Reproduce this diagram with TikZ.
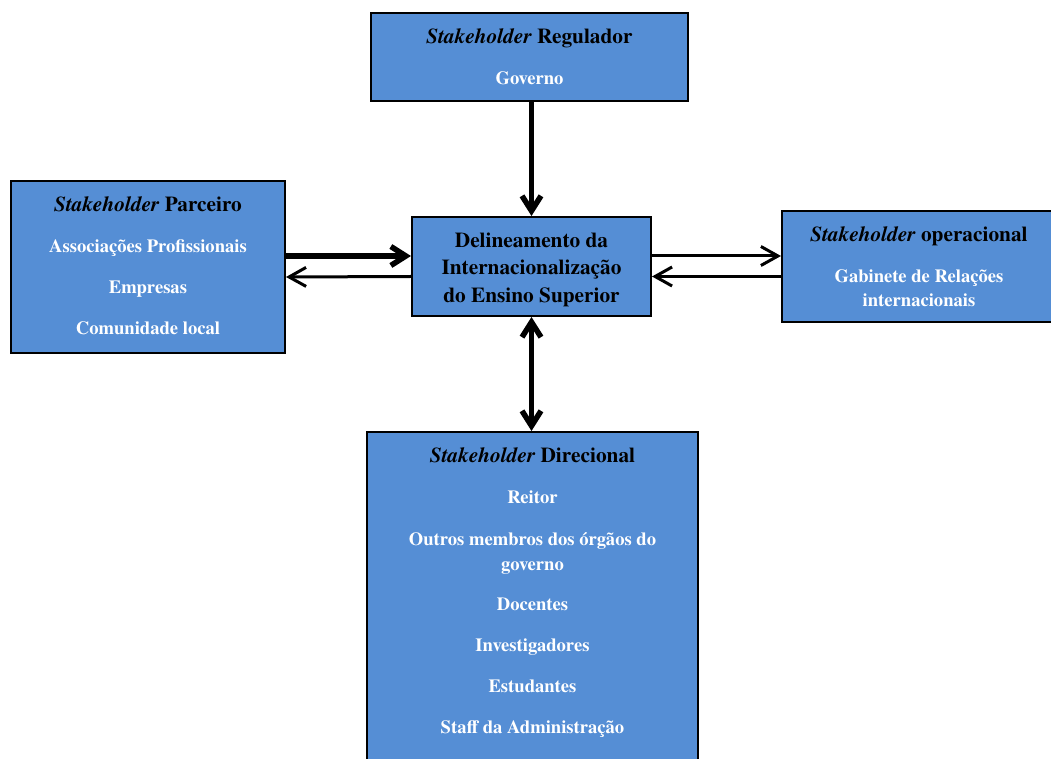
\documentclass[tikz,border=0pt]{standalone}
\usepackage{fontspec}
\setmainfont{texgyretermes}[Extension=.otf, UprightFont=*-regular, BoldFont=*-bold, ItalicFont=*-italic, BoldItalicFont=*-bolditalic]
\usetikzlibrary{arrows.meta}
\definecolor{boxblue}{RGB}{85,142,213}
% heading line of every stakeholder box
\newcommand\shtitle[1]{{\color{black}\fontsize{21.3}{25}\selectfont\textit{Stakeholder} #1}}
\begin{document}
\begin{tikzpicture}[x=1pt,y=1pt,
  sbox/.style={draw=black, line width=2pt, fill=boxblue, inner sep=0pt},
  stxt/.style={anchor=north, align=center, inner sep=0pt, text=white,
    font=\bfseries\fontsize{18.6}{25}\selectfont},
  ctxt/.style={align=center, inner sep=0pt, text=black, font=\bfseries\fontsize{21.3}{27.5}\selectfont},
  heavy/.style={line width=5.5pt, -{Straight Barb[length=15pt,width=19pt]}},
  heavyboth/.style={line width=5.5pt, {Straight Barb[length=15pt,width=19pt]}-{Straight Barb[length=15pt,width=19pt]}},
  light/.style={line width=3pt, -{Straight Barb[length=17pt,width=19pt]}}
]
\useasboundingbox (0,0) rectangle (1051,758);

% boxes
\node[sbox, minimum width=317, minimum height=88] (reg) at (529.5,701) {};
\node[sbox, minimum width=274, minimum height=172] (parc) at (148,491) {};
\node[sbox, minimum width=239, minimum height=99] (cen) at (531.5,491.5) {};
\node[sbox, minimum width=274, minimum height=111] (oper) at (919,491.5) {};
\node[sbox, minimum width=331, minimum height=358] (dir) at (532.5,147) {};

% box texts
\node[ctxt] (centxt) at ([yshift=-3pt]cen.center)
  {Delineamento da\\Internacionalização\\do Ensino Superior};
\node[stxt] (regtxt) at ([yshift=-16.5pt]reg.north)
  {\shtitle{Regulador}\\[16pt]Governo};
\node[stxt] (parctxt) at ([yshift=-16.5pt]parc.north)
  {\shtitle{Parceiro}\\[16pt]Associações Profissionais\\[16pt]Empresas\\[16pt]Comunidade local};
\node[stxt] (opertxt) at ([yshift=-16.5pt]oper.north)
  {\shtitle{operacional}\\[16pt]Gabinete de Relações\\[-1pt]internacionais};
\node[stxt] (dirtxt) at ([yshift=-16.5pt]dir.north)
  {\shtitle{Direcional}\\[16pt]Reitor\\[17pt]Outros membros dos órgãos do\\governo\\[15pt]Docentes\\[16pt]Investigadores\\[16pt]Estudantes\\[16pt]Staff da Administração};

% connectors
\draw[heavy] (cen.north |- reg.south) -- (cen.north);
\draw[heavyboth] (cen.south) -- (cen.south |- dir.north);
\draw[heavy] ([yshift=11pt]parc.east) -- ([yshift=10.5pt]cen.west);
\draw[light] ([yshift=-10pt]cen.west) -- ([yshift=-10pt]parc.east);
\draw[light] ([yshift=10.5pt]cen.east) -- ([yshift=10.5pt]oper.west);
\draw[light] ([yshift=-10pt]oper.west) -- ([yshift=-10pt]cen.east);
\end{tikzpicture}
\end{document}
